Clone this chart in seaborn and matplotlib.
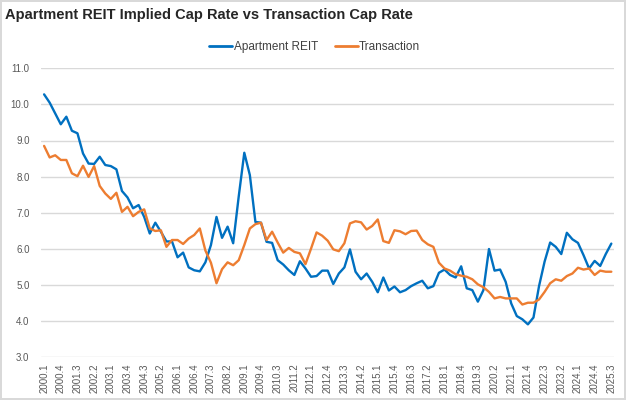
import numpy as np
import pandas as pd
import seaborn as sns
import matplotlib.pyplot as plt

# --- data (quarterly cap rates, %) ---
years = list(range(2000, 2026))
quarters = [f"{y}.{q}" for y in years for q in range(1, 5)][:103]   # 2000.1 .. 2025.3

apartment_reit = [
    10.28, 10.05, 9.75, 9.45, 9.66, 9.27, 9.20, 8.64, 8.36, 8.35,
    8.55, 8.32, 8.29, 8.20, 7.60, 7.42, 7.12, 7.21, 6.88, 6.42,
    6.72, 6.47, 6.20, 6.20, 5.76, 5.89, 5.48, 5.40, 5.37, 5.62,
    6.10, 6.88, 6.30, 6.61, 6.15, 7.45, 8.66, 8.04, 6.74, 6.72,
    6.19, 6.16, 5.68, 5.56, 5.40, 5.27, 5.65, 5.45, 5.22, 5.24,
    5.39, 5.39, 5.02, 5.31, 5.48, 5.98, 5.36, 5.15, 5.31, 5.08,
    4.79, 5.20, 4.84, 4.95, 4.79, 4.85, 4.96, 5.04, 5.11, 4.90,
    4.96, 5.33, 5.42, 5.27, 5.20, 5.51, 4.90, 4.85, 4.53, 4.85,
    5.99, 5.39, 5.42, 5.08, 4.48, 4.13, 4.04, 3.90, 4.09, 4.96,
    5.64, 6.17, 6.05, 5.85, 6.44, 6.26, 6.16, 5.82, 5.45, 5.66,
    5.52, 5.85, 6.14,
]

transaction = [
    8.85, 8.53, 8.59, 8.46, 8.46, 8.09, 8.01, 8.30, 7.99, 8.29,
    7.74, 7.53, 7.38, 7.55, 7.02, 7.16, 6.90, 7.02, 7.09, 6.56,
    6.49, 6.51, 6.05, 6.24, 6.24, 6.13, 6.28, 6.38, 6.56, 5.95,
    5.61, 5.04, 5.43, 5.62, 5.54, 5.68, 6.10, 6.56, 6.68, 6.72,
    6.24, 6.47, 6.17, 5.89, 6.02, 5.91, 5.87, 5.57, 6.00, 6.45,
    6.36, 6.22, 5.98, 5.93, 6.15, 6.70, 6.76, 6.73, 6.53, 6.63,
    6.81, 6.21, 6.16, 6.51, 6.48, 6.40, 6.49, 6.50, 6.24, 6.12,
    6.05, 5.61, 5.45, 5.39, 5.29, 5.25, 5.22, 5.15, 5.01, 4.93,
    4.80, 4.62, 4.66, 4.62, 4.62, 4.62, 4.45, 4.50, 4.50, 4.59,
    4.80, 5.04, 5.15, 5.11, 5.24, 5.31, 5.47, 5.42, 5.45, 5.27,
    5.39, 5.36, 5.36,
]

series_names = ["Apartment REIT", "Transaction"]
colors = ["#0070C0", "#ED7D31"]
y_ticks = [3.0, 4.0, 5.0, 6.0, 7.0, 8.0, 9.0, 10.0, 11.0]

df = pd.DataFrame({
    "idx": list(range(len(quarters))) * 2,
    "quarter": quarters * 2,
    "rate": apartment_reit + transaction,
    "series": [series_names[0]] * len(quarters) + [series_names[1]] * len(quarters),
})

# --- plot ---
sns.set_theme(style="white")
plt.rcParams["font.family"] = ["Liberation Sans", "DejaVu Sans"]

fig = plt.figure(figsize=(6.26, 4.0), dpi=100)
fig.patch.set_edgecolor("#d9d9d9")
fig.patch.set_linewidth(1.5)
ax = fig.add_axes([0.066, 0.108, 0.915, 0.721])

sns.lineplot(data=df, x="idx", y="rate", hue="series", palette=colors,
             linewidth=1.7, ax=ax, legend=False)

ax.set_xlim(-0.5, len(quarters) - 0.5)
ax.set_ylim(3.0, 11.0)
ax.set_yticks(y_ticks)
ax.set_yticklabels([f"{v:.1f}" for v in y_ticks], fontsize=7, color="#595959")
ax.set_xticks(range(0, len(quarters), 3))
ax.set_xticklabels(quarters[::3], rotation=90, fontsize=7, color="#595959")
ax.tick_params(axis="x", length=0, pad=4.5)
ax.tick_params(axis="y", length=0, pad=8.5)
ax.set_xlabel("")
ax.set_ylabel("")
ax.yaxis.grid(True, color="#d9d9d9", linewidth=1)
ax.set_axisbelow(True)
for s in ax.spines.values():
    s.set_visible(False)

fig.text(0.008, 0.962, "Apartment REIT Implied Cap Rate vs Transaction Cap Rate",
         fontsize=10.5, fontweight="bold", va="center", ha="left")

handles = [plt.Line2D([], [], color=c, linewidth=2) for c in colors]
fig.legend(handles, series_names, loc="center", bbox_to_anchor=(0.503, 0.882),
           ncol=2, frameon=False, fontsize=8.5, handlelength=1.95,
           handletextpad=0.1, columnspacing=1.45, labelcolor="#404040")

fig.savefig("out.png", dpi=100)
